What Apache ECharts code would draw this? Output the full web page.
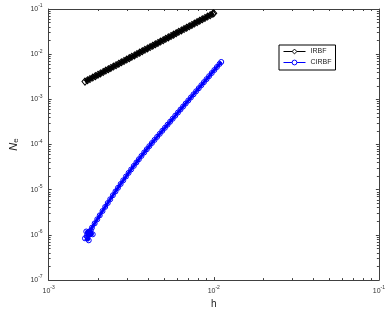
<!DOCTYPE html>
<html>
<head>
<meta charset="utf-8">
<script src="https://cdn.jsdelivr.net/npm/echarts@6/dist/echarts.min.js"></script>
<style>
  html, body { margin: 0; padding: 0; background: #fff; }
  #chart { width: 388px; height: 314px; }
</style>
</head>
<body>
<div id="chart"></div>
<script>
// IRBF (black diamonds)
const hIRBF = [0.00166, 0.00172, 0.00178, 0.00185, 0.00192, 0.00199, 0.00206, 0.00214, 0.00222, 0.00230,
  0.00238, 0.00247, 0.00256, 0.00266, 0.00276, 0.00286, 0.00297, 0.00308, 0.00319, 0.00331,
  0.00343, 0.00356, 0.00369, 0.00383, 0.00397, 0.00412, 0.00427, 0.00443, 0.00459, 0.00476,
  0.00494, 0.00512, 0.00531, 0.00551, 0.00571, 0.00592, 0.00614, 0.00637, 0.00661, 0.00685,
  0.00711, 0.00737, 0.00764, 0.00793, 0.00822, 0.00853, 0.00884, 0.00917, 0.00951, 0.00986, 0.0100]
const nIRBF = [0.00247, 0.00264, 0.00282, 0.00304, 0.00327, 0.00351, 0.00375, 0.00404, 0.00434, 0.00464,
  0.00496, 0.00533, 0.00571, 0.00615, 0.00661, 0.00708, 0.00762, 0.00818, 0.00875, 0.00940,
  0.01008, 0.01083, 0.01161, 0.01248, 0.01339, 0.01438, 0.01542, 0.01656, 0.01774, 0.01903,
  0.02045, 0.02193, 0.02355, 0.02529, 0.02709, 0.02907, 0.03121, 0.03350, 0.03598, 0.03857,
  0.04147, 0.04446, 0.04767, 0.05125, 0.05495, 0.0590, 0.0633, 0.0679, 0.0729, 0.0782, 0.0804]

// CIRBF (blue circles), noisy cluster first
const hCIRBF = [0.00166, 0.00175, 0.00169, 0.00180, 0.00185, 0.00172,
  0.00170, 0.00176, 0.00183, 0.00190, 0.00197, 0.00204, 0.00212, 0.00220, 0.00228, 0.00236,
  0.00245, 0.00254, 0.00263, 0.00273, 0.00283, 0.00294, 0.00305, 0.00316, 0.00328, 0.00340,
  0.00352, 0.00365, 0.00379, 0.00393, 0.00407, 0.00422, 0.00438, 0.00454, 0.00471, 0.00488,
  0.00506, 0.00525, 0.00544, 0.00564, 0.00585, 0.00607, 0.00629, 0.00652, 0.00676, 0.00701,
  0.00727, 0.00754, 0.00782, 0.00811, 0.00841, 0.00872, 0.00904, 0.00937, 0.00972, 0.01008,
  0.01045, 0.01084, 0.01110]
const nCIRBF = [8.4e-7, 7.6e-7, 1.19e-6, 1.26e-6, 1.03e-6, 9.0e-7,
  9.4e-7, 1.15e-6, 1.45e-6, 1.80e-6, 2.22e-6, 2.71e-6, 3.38e-6, 4.17e-6, 5.08e-6, 6.15e-6,
  7.55e-6, 9.16e-6, 1.102e-5, 1.34e-5, 1.614e-5, 1.96e-5, 2.36e-5, 2.81e-5, 3.37e-5, 4.01e-5,
  4.73e-5, 5.61e-5, 6.67e-5, 7.87e-5, 9.20e-5, 1.079e-4, 1.269e-4, 1.479e-4, 1.730e-4, 2.014e-4,
  2.35e-4, 2.75e-4, 3.20e-4, 3.73e-4, 4.37e-4, 5.12e-4, 5.96e-4, 6.93e-4, 8.09e-4, 9.44e-4,
  1.104e-3, 1.291e-3, 1.508e-3, 1.762e-3, 2.056e-3, 2.40e-3, 2.80e-3, 3.26e-3, 3.82e-3, 4.46e-3,
  5.20e-3, 6.08e-3, 6.73e-3]

// ticks
const xMajor = [1e-3, 1e-2, 1e-1]
const yMajor = [1e-7, 1e-6, 1e-5, 1e-4, 1e-3, 1e-2, 1e-1]
const mults = [2, 3, 4, 5, 6, 7, 8, 9]
const minorOf = majors => majors.slice(0, -1).flatMap(m => mults.map(k => +(m * k).toPrecision(3)))
const xMinor = minorOf(xMajor)
const yMinor = minorOf(yMajor)

const font = 'Liberation Sans, Arial, sans-serif'
const axisCol = '#404040'

function powLabel(v) {
  return '{b|10}{s|' + Math.round(Math.log10(v)) + '}'
}
const labelRich = {
  b: { fontSize: 7, color: '#333', fontFamily: font },
  s: { fontSize: 5, color: '#333', fontFamily: font, padding: [0, 0, 6, 0] }
}

function logAxis(pos, min, max, ticks, len, withLine, withLabel) {
  return {
    type: 'log',
    logBase: 10,
    position: pos,
    min: min,
    max: max,
    axisLine: { show: withLine, onZero: false, lineStyle: { color: axisCol, width: 1 } },
    axisTick: { show: true, inside: true, length: len, customValues: ticks, lineStyle: { color: axisCol, width: 1 } },
    axisLabel: withLabel
      ? { show: true, customValues: ticks, formatter: powLabel, rich: labelRich, margin: 6 }
      : { show: false },
    splitLine: { show: false },
    minorTick: { show: false }
  }
}

const xBottom = logAxis('bottom', 1e-3, 1e-1, xMajor, 3, true, true)
xBottom.axisLabel.margin = 5
xBottom.name = 'h'
xBottom.nameLocation = 'middle'
xBottom.nameGap = 17
xBottom.nameTextStyle = { fontSize: 10, color: '#222', fontFamily: font }

const yLeft = logAxis('left', 1e-7, 1e-1, yMajor, 3, true, true)
yLeft.name = '{n|N}{e|e}'
yLeft.nameLocation = 'middle'
yLeft.nameRotate = 90
yLeft.nameGap = 26
yLeft.nameTextStyle = {
  rich: {
    n: { fontSize: 11, color: '#222', fontFamily: font, fontStyle: 'italic' },
    e: { fontSize: 8, color: '#222', fontFamily: font, padding: [4, 0, 0, 0] }
  }
}

const chart = echarts.init(document.getElementById('chart'))
chart.setOption({
  animation: false,
  backgroundColor: '#fff',
  grid: { left: 39, right: 5, top: 9, bottom: 32 },
  legend: {
    orient: 'vertical',
    left: 279,
    top: 45,
    itemWidth: 22,
    itemHeight: 6,
    itemGap: 4,
    padding: [3, 4, 4, 4],
    borderColor: '#000',
    borderWidth: 1,
    borderRadius: 0,
    backgroundColor: '#fff',
    lineStyle: { width: 1 },
    textStyle: { fontSize: 7, color: '#222', fontFamily: font },
    data: [
      { name: 'IRBF', itemStyle: { color: '#fff', borderColor: '#000', borderWidth: 1 } },
      { name: 'CIRBF', itemStyle: { color: '#fff', borderColor: '#0000ff', borderWidth: 1 } }
    ]
  },
  xAxis: [
    xBottom,
    logAxis('top', 1e-3, 1e-1, xMajor, 3, true, false),
    logAxis('bottom', 1e-3, 1e-1, xMinor, 2, false, false),
    logAxis('top', 1e-3, 1e-1, xMinor, 2, false, false)
  ],
  yAxis: [
    yLeft,
    logAxis('right', 1e-7, 1e-1, yMajor, 3, true, false),
    logAxis('left', 1e-7, 1e-1, yMinor, 2, false, false),
    logAxis('right', 1e-7, 1e-1, yMinor, 2, false, false)
  ],
  series: [
    {
      name: 'IRBF',
      type: 'line',
      xAxisIndex: 0,
      yAxisIndex: 0,
      data: hIRBF.map((h, i) => [h, nIRBF[i]]),
      symbol: 'diamond',
      symbolSize: [6, 7],
      lineStyle: { color: '#000', width: 4 },
      itemStyle: { color: 'none', borderColor: '#000', borderWidth: 1 }
    },
    {
      name: 'CIRBF',
      type: 'line',
      xAxisIndex: 0,
      yAxisIndex: 0,
      data: hCIRBF.map((h, i) => [h, nCIRBF[i]]),
      symbol: 'circle',
      symbolSize: 5,
      lineStyle: { color: '#0000ff', width: 3 },
      itemStyle: { color: 'none', borderColor: '#0000ff', borderWidth: 1 }
    }
  ]
})
</script>
</body>
</html>
